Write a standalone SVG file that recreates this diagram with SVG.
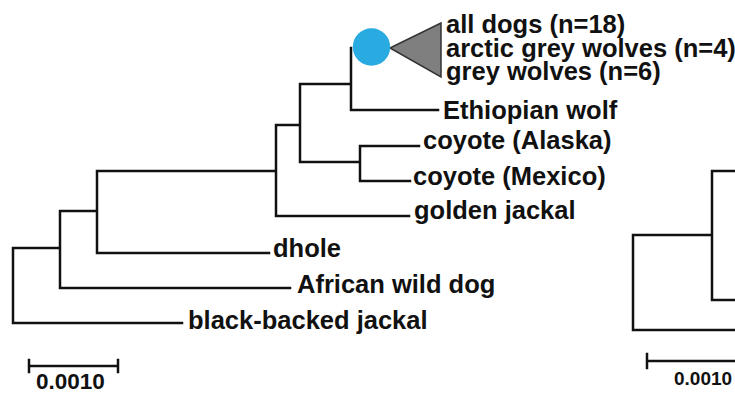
<svg xmlns="http://www.w3.org/2000/svg" width="735" height="394" viewBox="0 0 735 394">
<style>
.br{fill:none;stroke:#111;stroke-width:2.5;stroke-linecap:square}
.lb{font-family:"Liberation Sans",Arial,sans-serif;font-weight:bold;font-size:25.5px;fill:#111}
.sc{font-family:"Liberation Sans",Arial,sans-serif;font-weight:bold;fill:#111}
</style>
<rect width="735" height="394" fill="#fff"/>
<g id="connectors">
<path class="br" d="M13,248V323H182M13,248H60M60,211V288H290M60,211H97M97,171V253H269M97,171H276M276,125V216H409M276,125H300M300,84V162H360M300,84H351M351,48V110H438M360,146V181H410M360,146H419"/>
<path class="br" d="M633,235V330H737M633,235H712M712,171V300H737M712,171H737"/>
</g>
<g id="scale-left">
<path class="br" d="M29,366H118M29,360V372M118,360V372"/>
<text class="sc" x="36" y="389" font-size="22.5">0.0010</text>
</g>
<g id="scale-right">
<path class="br" d="M647,361H740M647,354V368"/>
<text class="sc" x="674" y="385" font-size="19">0.0010</text>
</g>
<g id="collapsed-clade">
<polygon points="390,48 441,23 441,77" fill="#7f7f7f" stroke="#333" stroke-width="1.5"/>
<circle cx="371.5" cy="47" r="18.7" fill="#29abe2"/>
<text class="lb" x="446" y="33">all dogs (n=18)</text>
<text class="lb" x="446" y="57">arctic grey wolves (n=4)</text>
<text class="lb" x="446" y="80">grey wolves (n=6)</text>
</g>
<g id="ethiopian-wolf"><text class="lb" x="443" y="119">Ethiopian wolf</text></g>
<g id="coyote-alaska"><text class="lb" x="423" y="149">coyote (Alaska)</text></g>
<g id="coyote-mexico"><text class="lb" x="413" y="185">coyote (Mexico)</text></g>
<g id="golden-jackal"><text class="lb" x="414" y="219">golden jackal</text></g>
<g id="dhole"><text class="lb" x="273" y="257">dhole</text></g>
<g id="african-wild-dog"><text class="lb" x="297" y="293">African wild dog</text></g>
<g id="black-backed-jackal"><text class="lb" x="188" y="329">black-backed jackal</text></g>
</svg>
